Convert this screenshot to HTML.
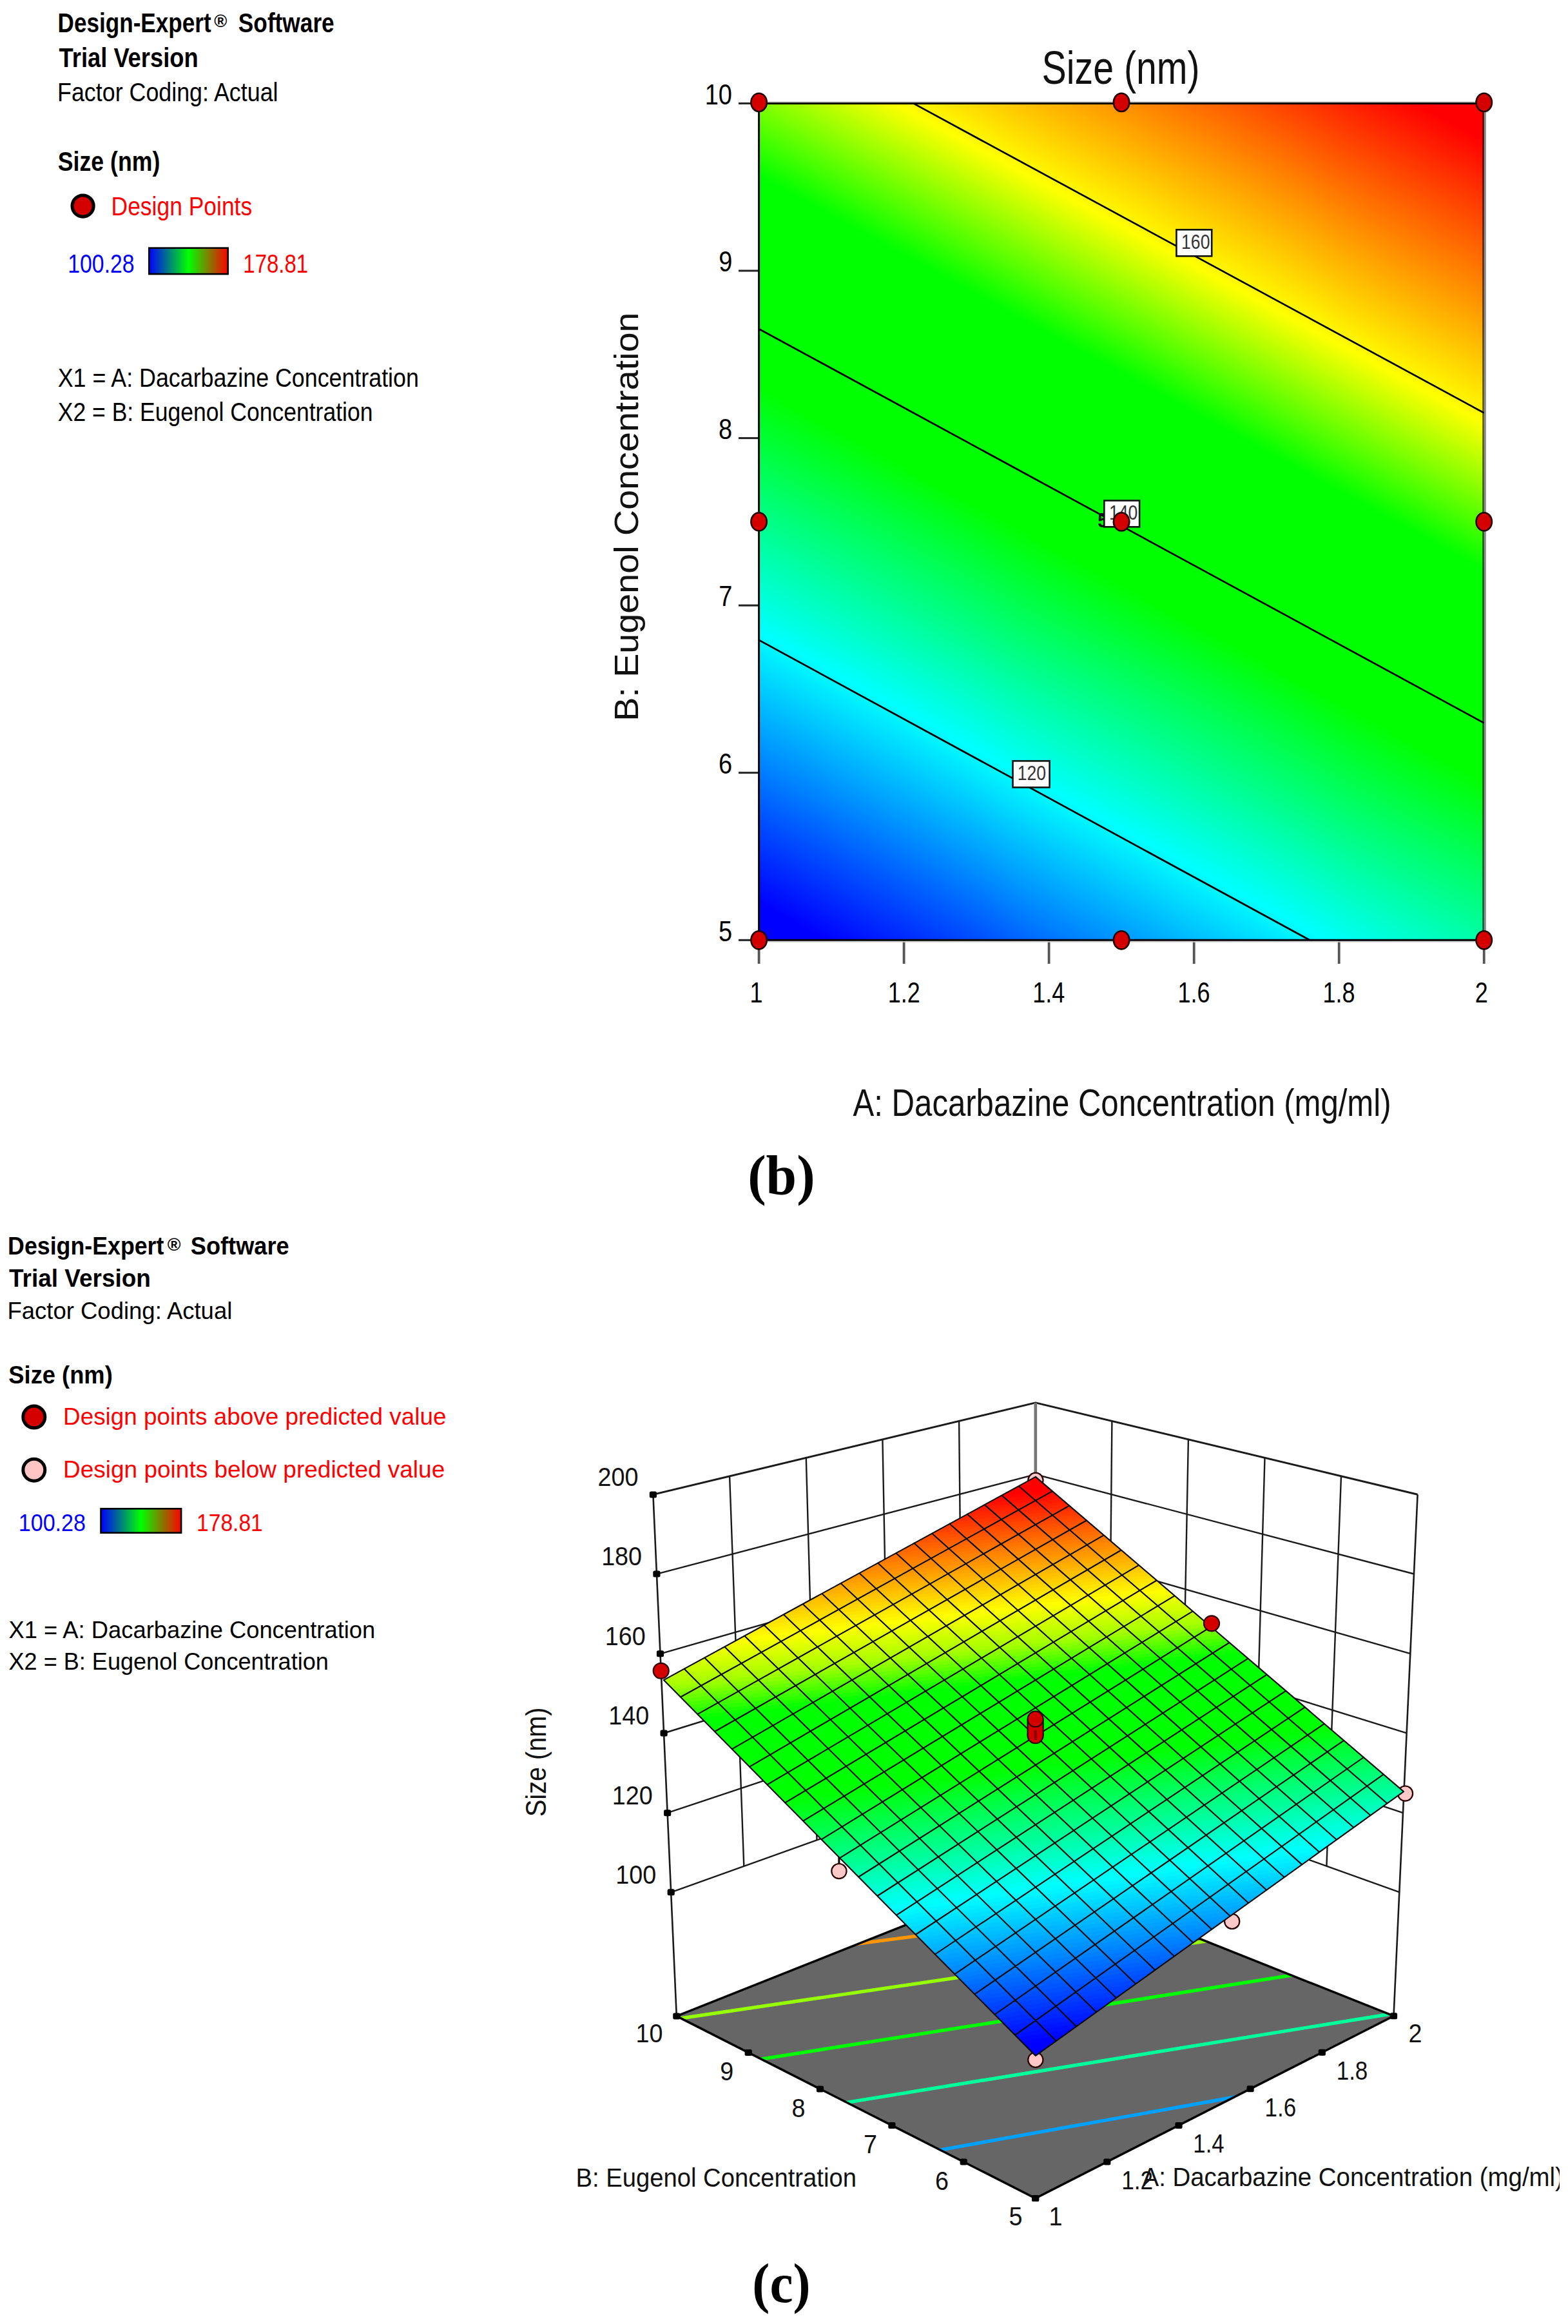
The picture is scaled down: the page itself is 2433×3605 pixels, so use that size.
<!DOCTYPE html>
<html><head><meta charset="utf-8"><title>Figure</title><style>html,body{margin:0;padding:0;background:#fff}svg{display:block}</style></head><body>
<svg width="2433" height="3605" viewBox="0 0 2433 3605">
<defs>
<linearGradient id="g2d" gradientUnits="userSpaceOnUse" x1="1177.6" y1="1458.3" x2="1977.6" y2="-16.9">
<stop offset="0" stop-color="#0000ff"/>
<stop offset="0.03" stop-color="#0000ff"/>
<stop offset="0.25" stop-color="#00ffff"/>
<stop offset="0.45" stop-color="#00ff00"/>
<stop offset="0.62" stop-color="#00ff00"/>
<stop offset="0.74" stop-color="#ffff00"/>
<stop offset="0.97" stop-color="#ff0000"/>
<stop offset="1.0" stop-color="#ff0000"/>
</linearGradient>
<linearGradient id="bar" x1="0" y1="0" x2="1" y2="0"><stop offset="0" stop-color="#0000ff"/><stop offset="0.5" stop-color="#00ff00"/><stop offset="1" stop-color="#ff0000"/></linearGradient>
</defs>
<rect width="2433" height="3605" fill="#fff"/>
<g id="legend-top">
<text transform="translate(89.62,50.40) scale(0.8214,1)" font-family='"Liberation Sans", sans-serif' font-size="42.75" font-weight="bold" fill="#000">Design-Expert</text>
<text transform="translate(332.19,41.80) scale(1.0087,1)" font-family='"Liberation Sans", sans-serif' font-size="27.00" font-weight="bold" fill="#000">®</text>
<text transform="translate(369.84,50.40) scale(0.8248,1)" font-family='"Liberation Sans", sans-serif' font-size="42.75" font-weight="bold" fill="#000">Software</text>
<text transform="translate(91.54,103.60) scale(0.8504,1)" font-family='"Liberation Sans", sans-serif' font-size="42.75" font-weight="bold" fill="#000">Trial Version</text>
<text transform="translate(89.03,157.20) scale(0.8676,1)" font-family='"Liberation Sans", sans-serif' font-size="41.30" font-weight="normal" fill="#000">Factor Coding: Actual</text>
<text transform="translate(89.83,264.70) scale(0.8482,1)" font-family='"Liberation Sans", sans-serif' font-size="42.03" font-weight="bold" fill="#000">Size (nm)</text>
<circle cx="128.6" cy="319.6" r="16.6" fill="#d40000" stroke="#000" stroke-width="5"/>
<text transform="translate(172.56,333.90) scale(0.8893,1)" font-family='"Liberation Sans", sans-serif' font-size="39.86" font-weight="normal" fill="#ff0000">Design Points</text>
<text transform="translate(105.27,423.20) scale(0.8326,1)" font-family='"Liberation Sans", sans-serif' font-size="40.58" font-weight="normal" fill="#0000ff">100.28</text>
<rect x="231.3" y="384.7" width="122.4" height="40.4" fill="url(#bar)" stroke="#000" stroke-width="2.6"/>
<text transform="translate(377.33,423.20) scale(0.8130,1)" font-family='"Liberation Sans", sans-serif' font-size="40.58" font-weight="normal" fill="#ff0000">178.81</text>
<text transform="translate(89.70,600.40) scale(0.8639,1)" font-family='"Liberation Sans", sans-serif' font-size="41.45" font-weight="normal" fill="#000">X1 = A: Dacarbazine Concentration</text>
<text transform="translate(89.71,653.00) scale(0.8572,1)" font-family='"Liberation Sans", sans-serif' font-size="41.45" font-weight="normal" fill="#000">X2 = B: Eugenol Concentration</text>
</g>
<g id="contour-plot">
<rect x="1177.6" y="160.4" width="1125.1" height="1297.9" fill="url(#g2d)"/>
<line x1="1146" y1="160.4" x2="1177.6" y2="160.4" stroke="#222" stroke-width="3"/>
<text transform="translate(1093.67,161.70) scale(0.8400,1)" font-family='"Liberation Sans", sans-serif' font-size="45.22" font-weight="normal" fill="#000">10</text>
<line x1="1146" y1="420.0" x2="1177.6" y2="420.0" stroke="#222" stroke-width="3"/>
<text transform="translate(1115.13,421.28) scale(0.8400,1)" font-family='"Liberation Sans", sans-serif' font-size="45.22" font-weight="normal" fill="#000">9</text>
<line x1="1146" y1="679.6" x2="1177.6" y2="679.6" stroke="#222" stroke-width="3"/>
<text transform="translate(1114.94,680.86) scale(0.8400,1)" font-family='"Liberation Sans", sans-serif' font-size="45.22" font-weight="normal" fill="#000">8</text>
<line x1="1146" y1="939.1" x2="1177.6" y2="939.1" stroke="#222" stroke-width="3"/>
<text transform="translate(1115.32,940.44) scale(0.8400,1)" font-family='"Liberation Sans", sans-serif' font-size="45.22" font-weight="normal" fill="#000">7</text>
<line x1="1146" y1="1198.7" x2="1177.6" y2="1198.7" stroke="#222" stroke-width="3"/>
<text transform="translate(1114.94,1200.02) scale(0.8400,1)" font-family='"Liberation Sans", sans-serif' font-size="45.22" font-weight="normal" fill="#000">6</text>
<line x1="1146" y1="1458.3" x2="1177.6" y2="1458.3" stroke="#222" stroke-width="3"/>
<text transform="translate(1114.94,1459.60) scale(0.8400,1)" font-family='"Liberation Sans", sans-serif' font-size="45.22" font-weight="normal" fill="#000">5</text>
<line x1="1177.6" y1="1458.3" x2="1177.6" y2="1495" stroke="#555" stroke-width="3.8"/>
<text transform="translate(1163.59,1554.60) scale(0.8000,1)" font-family='"Liberation Sans", sans-serif' font-size="44.93" font-weight="normal" fill="#000">1</text>
<line x1="1402.6" y1="1458.3" x2="1402.6" y2="1495" stroke="#555" stroke-width="3.8"/>
<text transform="translate(1377.69,1554.60) scale(0.8000,1)" font-family='"Liberation Sans", sans-serif' font-size="44.93" font-weight="normal" fill="#000">1.2</text>
<line x1="1627.6" y1="1458.3" x2="1627.6" y2="1495" stroke="#555" stroke-width="3.8"/>
<text transform="translate(1602.35,1554.60) scale(0.8000,1)" font-family='"Liberation Sans", sans-serif' font-size="44.93" font-weight="normal" fill="#000">1.4</text>
<line x1="1852.7" y1="1458.3" x2="1852.7" y2="1495" stroke="#555" stroke-width="3.8"/>
<text transform="translate(1827.55,1554.60) scale(0.8000,1)" font-family='"Liberation Sans", sans-serif' font-size="44.93" font-weight="normal" fill="#000">1.6</text>
<line x1="2077.7" y1="1458.3" x2="2077.7" y2="1495" stroke="#555" stroke-width="3.8"/>
<text transform="translate(2052.57,1554.60) scale(0.8000,1)" font-family='"Liberation Sans", sans-serif' font-size="44.93" font-weight="normal" fill="#000">1.8</text>
<line x1="2302.7" y1="1458.3" x2="2302.7" y2="1495" stroke="#555" stroke-width="3.8"/>
<text transform="translate(2288.73,1554.60) scale(0.8000,1)" font-family='"Liberation Sans", sans-serif' font-size="44.93" font-weight="normal" fill="#000">2</text>
<line x1="1417.3" y1="160.4" x2="2302.7" y2="640.5" stroke="#000" stroke-width="2.7"/>
<line x1="1177.6" y1="510.2" x2="2302.7" y2="1121.5" stroke="#000" stroke-width="2.7"/>
<line x1="1177.6" y1="992.9" x2="2032.2" y2="1458.3" stroke="#000" stroke-width="2.7"/>
<line x1="1176.1" y1="158.0" x2="2304.2" y2="158.0" stroke="#d0d0d0" stroke-width="2"/>
<line x1="1176.1" y1="1460.7" x2="2304.2" y2="1460.7" stroke="#d0d0d0" stroke-width="2"/>
<line x1="2304.5" y1="160.4" x2="2304.5" y2="1458.3" stroke="#888" stroke-width="2.6"/>
<line x1="2301.6" y1="160.4" x2="2301.6" y2="1458.3" stroke="#000" stroke-opacity="0.6" stroke-width="3"/>
<path d="M2304.2 160.4L1177.6 160.4L1177.6 1458.3L2304.2 1458.3" fill="none" stroke="#000" stroke-width="3" stroke-linecap="butt" stroke-linejoin="miter"/>
<text transform="translate(1703.16,818.20) scale(0.9200,1)" font-family='"Liberation Sans", sans-serif' font-size="30.43" font-weight="bold" fill="#111">5</text>
<rect x="1825.4" y="356.3" width="54.8" height="41.0" fill="#fff" stroke="#111" stroke-width="2.6"/>
<text transform="translate(1833.11,385.90) scale(0.8564,1)" font-family='"Liberation Sans", sans-serif' font-size="31.01" font-weight="normal" fill="#333">160</text>
<rect x="1713.3" y="776.5" width="54.8" height="40.8" fill="#fff" stroke="#111" stroke-width="2.6"/>
<text transform="translate(1721.01,806.10) scale(0.8564,1)" font-family='"Liberation Sans", sans-serif' font-size="31.01" font-weight="normal" fill="#333">140</text>
<rect x="1571.5" y="1180.4" width="57.1" height="41.0" fill="#fff" stroke="#111" stroke-width="2.6"/>
<text transform="translate(1578.71,1210.40) scale(0.8564,1)" font-family='"Liberation Sans", sans-serif' font-size="31.01" font-weight="normal" fill="#333">120</text>
<ellipse cx="1177.6" cy="158.9" rx="12.2" ry="14.1" fill="#d40000" stroke="#200" stroke-width="2.6"/>
<ellipse cx="1177.6" cy="809.3" rx="12.2" ry="14.1" fill="#d40000" stroke="#200" stroke-width="2.6"/>
<ellipse cx="1177.6" cy="1458.3" rx="12.2" ry="14.1" fill="#d40000" stroke="#200" stroke-width="2.6"/>
<ellipse cx="1740.1" cy="158.9" rx="12.2" ry="14.1" fill="#d40000" stroke="#200" stroke-width="2.6"/>
<ellipse cx="1740.1" cy="809.4" rx="12.2" ry="14.1" fill="#d40000" stroke="#200" stroke-width="2.6"/>
<ellipse cx="1740.1" cy="1458.3" rx="12.2" ry="14.1" fill="#d40000" stroke="#200" stroke-width="2.6"/>
<ellipse cx="2302.7" cy="158.9" rx="12.2" ry="14.1" fill="#d40000" stroke="#200" stroke-width="2.6"/>
<ellipse cx="2302.7" cy="809.3" rx="12.2" ry="14.1" fill="#d40000" stroke="#200" stroke-width="2.6"/>
<ellipse cx="2302.7" cy="1458.3" rx="12.2" ry="14.1" fill="#d40000" stroke="#200" stroke-width="2.6"/>
<text transform="translate(1616.62,129.50) scale(0.8015,1)" font-family='"Liberation Sans", sans-serif' font-size="71.45" font-weight="normal" fill="#111">Size (nm)</text>
<text transform="translate(1323.60,1731.30) scale(0.8388,1)" font-family='"Liberation Sans", sans-serif' font-size="58.55" font-weight="normal" fill="#111">A: Dacarbazine Concentration (mg/ml)</text>
<g transform="translate(989.8,1114.4) rotate(-90)">
<text transform="translate(-4.45,0.00) scale(1.0762,1)" font-family='"Liberation Sans", sans-serif' font-size="51.74" font-weight="normal" fill="#111">B: Eugenol Concentration</text>
</g>
</g>
<text transform="translate(1160.15,1852.10) scale(0.9938,1)" font-family='"Liberation Serif", serif' font-size="86.00" font-weight="bold" fill="#000">(b)</text>
<g id="legend-bottom">
<text transform="translate(12.08,1945.90) scale(0.9139,1)" font-family='"Liberation Sans", sans-serif' font-size="39.13" font-weight="bold" fill="#000">Design-Expert</text>
<text transform="translate(259.78,1940.00) scale(1.0402,1)" font-family='"Liberation Sans", sans-serif' font-size="27.00" font-weight="bold" fill="#000">®</text>
<text transform="translate(295.81,1945.90) scale(0.9252,1)" font-family='"Liberation Sans", sans-serif' font-size="39.13" font-weight="bold" fill="#000">Software</text>
<text transform="translate(14.03,1995.50) scale(0.9452,1)" font-family='"Liberation Sans", sans-serif' font-size="39.13" font-weight="bold" fill="#000">Trial Version</text>
<text transform="translate(11.48,2046.00) scale(0.9688,1)" font-family='"Liberation Sans", sans-serif' font-size="37.68" font-weight="normal" fill="#000">Factor Coding: Actual</text>
<text transform="translate(13.31,2145.80) scale(0.9285,1)" font-family='"Liberation Sans", sans-serif' font-size="39.13" font-weight="bold" fill="#000">Size (nm)</text>
<circle cx="52.8" cy="2198.1" r="17" fill="#d40000" stroke="#000" stroke-width="5"/>
<text transform="translate(98.05,2209.60) scale(1.0181,1)" font-family='"Liberation Sans", sans-serif' font-size="36.23" font-weight="normal" fill="#ff0000">Design points above predicted value</text>
<circle cx="52.8" cy="2280.3" r="17" fill="#ffc4c4" stroke="#000" stroke-width="5"/>
<text transform="translate(98.04,2292.20) scale(1.0211,1)" font-family='"Liberation Sans", sans-serif' font-size="36.23" font-weight="normal" fill="#ff0000">Design points below predicted value</text>
<text transform="translate(28.64,2374.90) scale(0.9243,1)" font-family='"Liberation Sans", sans-serif' font-size="36.96" font-weight="normal" fill="#0000ff">100.28</text>
<rect x="156.5" y="2340.3" width="124.6" height="37.4" fill="url(#bar)" stroke="#000" stroke-width="2.6"/>
<text transform="translate(305.08,2374.90) scale(0.9084,1)" font-family='"Liberation Sans", sans-serif' font-size="36.96" font-weight="normal" fill="#ff0000">178.81</text>
<text transform="translate(13.49,2540.70) scale(0.9647,1)" font-family='"Liberation Sans", sans-serif' font-size="37.68" font-weight="normal" fill="#000">X1 = A: Dacarbazine Concentration</text>
<text transform="translate(13.50,2590.20) scale(0.9577,1)" font-family='"Liberation Sans", sans-serif' font-size="37.68" font-weight="normal" fill="#000">X2 = B: Eugenol Concentration</text>
</g>
<g id="surface-plot">
<polyline points="1013.4,2318.4 1606.8,2175.9 2199.6,2318.3" fill="none" stroke="#1a1a1a" stroke-width="3" stroke-linejoin="round"/>
<polyline points="1018.9,2441.6 1606.8,2287.1 2193.9,2441.5" fill="none" stroke="#1a1a1a" stroke-width="2.4" stroke-linejoin="round"/>
<polyline points="1024.5,2565.3 1606.9,2398.7 2188.3,2565.2" fill="none" stroke="#1a1a1a" stroke-width="2.4" stroke-linejoin="round"/>
<polyline points="1030.1,2688.5 1606.9,2509.9 2182.6,2688.4" fill="none" stroke="#1a1a1a" stroke-width="2.4" stroke-linejoin="round"/>
<polyline points="1035.6,2812.2 1606.9,2621.6 2177.0,2812.1" fill="none" stroke="#1a1a1a" stroke-width="2.4" stroke-linejoin="round"/>
<polyline points="1041.2,2935.3 1607.0,2732.7 2171.3,2935.2" fill="none" stroke="#1a1a1a" stroke-width="2.4" stroke-linejoin="round"/>
<line x1="1132.1" y1="2289.9" x2="1154.3" y2="2894.8" stroke="#1a1a1a" stroke-width="2.4"/>
<line x1="1725.4" y1="2204.4" x2="1719.8" y2="2773.2" stroke="#1a1a1a" stroke-width="2.4"/>
<line x1="1250.8" y1="2261.4" x2="1267.5" y2="2854.3" stroke="#1a1a1a" stroke-width="2.4"/>
<line x1="1843.9" y1="2232.9" x2="1832.7" y2="2813.7" stroke="#1a1a1a" stroke-width="2.4"/>
<line x1="1369.4" y1="2232.9" x2="1380.6" y2="2813.7" stroke="#1a1a1a" stroke-width="2.4"/>
<line x1="1962.5" y1="2261.3" x2="1945.6" y2="2854.2" stroke="#1a1a1a" stroke-width="2.4"/>
<line x1="1488.1" y1="2204.4" x2="1493.8" y2="2773.2" stroke="#1a1a1a" stroke-width="2.4"/>
<line x1="2081.0" y1="2289.8" x2="2058.4" y2="2894.7" stroke="#1a1a1a" stroke-width="2.4"/>
<line x1="1606.8" y1="2175.9" x2="1607.0" y2="2732.7" stroke="#777" stroke-width="4.6"/>
<line x1="1013.4" y1="2318.4" x2="1049.8" y2="3127.4" stroke="#1a1a1a" stroke-width="2.6"/>
<line x1="2199.6" y1="2318.3" x2="2162.5" y2="3127.2" stroke="#1a1a1a" stroke-width="2.6"/>
<polygon points="1049.8,3127.4 1606.6,3410.0 2162.5,3127.2 1607.0,2906.0" fill="#666666"/>
<clipPath id="floorclip"><polygon points="1049.8,3127.4 1606.6,3410.0 2162.5,3127.2 1607.0,2906.0"/></clipPath>
<g clip-path="url(#floorclip)" stroke-width="5.4" stroke-linecap="butt">
<line x1="1320.0" y1="3016.6" x2="1640.0" y2="2974.7" stroke="#ff9600"/>
<line x1="1040.0" y1="3133.2" x2="1885.0" y2="3009.0" stroke="#96ff00"/>
<line x1="1168.0" y1="3196.2" x2="2016.0" y2="3062.2" stroke="#00ff00"/>
<line x1="1305.0" y1="3262.8" x2="2170.0" y2="3122.0" stroke="#00ff9c"/>
<line x1="1446.0" y1="3337.3" x2="1927.0" y2="3251.0" stroke="#00a0ff"/>
</g>
<polygon points="1049.8,3127.4 1606.6,3410.0 2162.5,3127.2 1607.0,2906.0" fill="none" stroke="#000" stroke-width="3.5" stroke-linejoin="miter"/>
<line x1="1301.9" y1="2880.0" x2="1301.9" y2="2895.0" stroke="#000" stroke-width="3"/>
<line x1="1911.7" y1="2970.0" x2="1911.7" y2="2975.0" stroke="#000" stroke-width="3"/>
<circle cx="1606.9" cy="2296.3" r="11.6" fill="#ffc8c8" stroke="#2a0000" stroke-width="2.2"/>
<circle cx="1301.9" cy="2902.6" r="11.6" fill="#ffc8c8" stroke="#2a0000" stroke-width="2.2"/>
<circle cx="1606.8" cy="3195.2" r="11.6" fill="#ffc8c8" stroke="#2a0000" stroke-width="2.2"/>
<circle cx="1911.7" cy="2980.4" r="11.6" fill="#ffc8c8" stroke="#2a0000" stroke-width="2.2"/>
<circle cx="2180.5" cy="2782.1" r="11.6" fill="#ffc8c8" stroke="#2a0000" stroke-width="2.2"/>
<g shape-rendering="geometricPrecision">
<polygon points="1029.8,2606.1 1606.8,3189.0 2178.0,2779.1 1606.9,2290.9" fill="#00ff00"/>
<polygon points="1606.8,3189.0 1619.3,3180.0 1600.9,3183.1" fill="#0000ff"/>
<polygon points="1616.3,3182.2 1631.8,3171.1 1595.0,3177.1 1602.4,3184.5" fill="#0000ff"/>
<polygon points="1628.7,3173.3 1644.1,3162.2 1589.2,3171.2 1596.5,3178.6" fill="#0000ff"/>
<polygon points="1641.1,3164.4 1656.5,3153.4 1583.3,3165.3 1590.6,3172.7" fill="#0002ff"/>
<polygon points="1653.5,3155.5 1668.7,3144.6 1577.5,3159.4 1584.8,3166.7" fill="#0009ff"/>
<polygon points="1665.7,3146.7 1681.0,3135.8 1571.7,3153.5 1578.9,3160.8" fill="#0010ff"/>
<polygon points="1678.0,3137.9 1693.1,3127.1 1565.9,3147.7 1573.1,3155.0" fill="#0017ff"/>
<polygon points="1690.1,3129.2 1705.2,3118.4 1560.1,3141.8 1567.3,3149.1" fill="#001eff"/>
<polygon points="1702.3,3120.5 1717.2,3109.7 1554.3,3136.0 1561.5,3143.2" fill="#0025ff"/>
<polygon points="1714.3,3111.8 1729.2,3101.1 1548.5,3130.1 1555.7,3137.4" fill="#002cff"/>
<polygon points="1726.3,3103.2 1741.2,3092.6 1542.7,3124.3 1549.9,3131.5" fill="#0033ff"/>
<polygon points="1738.3,3094.7 1753.0,3084.1 1537.0,3118.5 1544.2,3125.7" fill="#003aff"/>
<polygon points="1750.1,3086.1 1764.9,3075.6 1531.3,3112.7 1538.4,3119.9" fill="#0040ff"/>
<polygon points="1762.0,3077.6 1776.6,3067.1 1525.5,3106.9 1532.7,3114.1" fill="#0047ff"/>
<polygon points="1773.7,3069.2 1788.3,3058.7 1519.8,3101.1 1526.9,3108.3" fill="#004eff"/>
<polygon points="1785.5,3060.8 1800.0,3050.4 1514.1,3095.4 1521.2,3102.5" fill="#0055ff"/>
<polygon points="1797.1,3052.4 1811.6,3042.0 1508.4,3089.6 1515.5,3096.8" fill="#005cff"/>
<polygon points="1808.8,3044.1 1823.1,3033.8 1502.7,3083.9 1509.8,3091.0" fill="#0063ff"/>
<polygon points="1820.3,3035.8 1834.6,3025.5 1497.0,3078.1 1504.1,3085.3" fill="#006aff"/>
<polygon points="1831.8,3027.5 1846.1,3017.3 1491.4,3072.4 1498.4,3079.5" fill="#0071ff"/>
<polygon points="1843.3,3019.3 1857.5,3009.1 1485.7,3066.7 1492.8,3073.8" fill="#0078ff"/>
<polygon points="1854.7,3011.1 1868.8,3001.0 1480.1,3061.0 1487.1,3068.1" fill="#007fff"/>
<polygon points="1866.0,3003.0 1880.1,2992.9 1474.5,3055.3 1481.5,3062.4" fill="#0086ff"/>
<polygon points="1877.3,2994.9 1891.3,2984.8 1468.9,3049.6 1475.8,3056.7" fill="#008dff"/>
<polygon points="1888.6,2986.8 1902.5,2976.8 1463.3,3044.0 1470.2,3051.0" fill="#0094ff"/>
<polygon points="1899.8,2978.7 1913.7,2968.8 1457.7,3038.3 1464.6,3045.4" fill="#009bff"/>
<polygon points="1910.9,2970.7 1924.7,2960.8 1452.1,3032.7 1459.0,3039.7" fill="#00a1ff"/>
<polygon points="1922.0,2962.8 1935.8,2952.9 1446.5,3027.1 1453.4,3034.1" fill="#00a8ff"/>
<polygon points="1933.1,2954.9 1946.8,2945.0 1440.9,3021.4 1447.9,3028.4" fill="#00afff"/>
<polygon points="1944.1,2947.0 1957.7,2937.2 1435.4,3015.8 1442.3,3022.8" fill="#00b6ff"/>
<polygon points="1955.0,2939.1 1968.6,2929.4 1429.9,3010.2 1436.8,3017.2" fill="#00bdff"/>
<polygon points="1965.9,2931.3 1979.4,2921.6 1424.3,3004.7 1431.2,3011.6" fill="#00c4ff"/>
<polygon points="1976.8,2923.5 1990.2,2913.9 1418.8,2999.1 1425.7,3006.0" fill="#00cbff"/>
<polygon points="1987.6,2915.7 2001.0,2906.1 1413.3,2993.5 1420.2,3000.5" fill="#00d2ff"/>
<polygon points="1998.3,2908.0 2011.7,2898.5 1407.8,2988.0 1414.7,2994.9" fill="#00d9ff"/>
<polygon points="2009.1,2900.3 2022.3,2890.8 1402.3,2982.4 1409.2,2989.3" fill="#00e0ff"/>
<polygon points="2019.7,2892.7 2032.9,2883.2 1396.9,2976.9 1403.7,2983.8" fill="#00e7ff"/>
<polygon points="2030.3,2885.1 2043.5,2875.6 1391.4,2971.4 1398.2,2978.3" fill="#00eeff"/>
<polygon points="2040.9,2877.5 2054.0,2868.1 1385.9,2965.9 1392.7,2972.7" fill="#00f5ff"/>
<polygon points="2051.4,2869.9 2064.4,2860.6 1380.5,2960.4 1387.3,2967.2" fill="#00fcff"/>
<polygon points="2061.9,2862.4 2074.9,2853.1 1375.1,2954.9 1381.8,2961.7" fill="#00fffb"/>
<polygon points="2072.3,2854.9 2085.2,2845.7 1369.6,2949.4 1376.4,2956.2" fill="#00fff3"/>
<polygon points="2082.7,2847.5 2095.6,2838.3 1364.2,2944.0 1371.0,2950.8" fill="#00ffeb"/>
<polygon points="2093.0,2840.1 2105.9,2830.9 1358.8,2938.5 1365.6,2945.3" fill="#00ffe3"/>
<polygon points="2103.3,2832.7 2116.1,2823.5 1353.4,2933.1 1360.2,2939.8" fill="#00ffdb"/>
<polygon points="2113.6,2825.3 2126.3,2816.2 1348.1,2927.6 1354.8,2934.4" fill="#00ffd3"/>
<polygon points="2123.8,2818.0 2136.4,2808.9 1342.7,2922.2 1349.4,2929.0" fill="#00ffcb"/>
<polygon points="2134.0,2810.7 2146.5,2801.7 1337.3,2916.8 1344.0,2923.5" fill="#00ffc3"/>
<polygon points="2144.1,2803.4 2156.6,2794.5 1332.0,2911.4 1338.7,2918.1" fill="#00ffbb"/>
<polygon points="2154.2,2796.2 2166.6,2787.3 1326.7,2906.0 1333.3,2912.7" fill="#00ffb3"/>
<polygon points="2164.2,2789.0 2176.6,2780.1 1321.3,2900.6 1328.0,2907.3" fill="#00ffab"/>
<polygon points="2174.2,2781.8 2178.0,2779.1 2173.0,2774.9 1316.0,2895.2 1322.6,2901.9" fill="#00ffa3"/>
<polygon points="2174.5,2776.1 2167.3,2769.9 1310.7,2889.9 1317.3,2896.6" fill="#00ff9b"/>
<polygon points="2168.7,2771.1 2161.6,2765.0 1305.4,2884.5 1312.0,2891.2" fill="#00ff93"/>
<polygon points="2163.0,2766.2 2155.8,2760.1 1300.1,2879.2 1306.7,2885.8" fill="#00ff8b"/>
<polygon points="2157.2,2761.3 2150.1,2755.3 1294.9,2873.9 1301.4,2880.5" fill="#00ff83"/>
<polygon points="2151.5,2756.4 2144.4,2750.4 1289.6,2868.6 1296.1,2875.2" fill="#00ff7c"/>
<polygon points="2145.8,2751.6 2138.7,2745.5 1284.3,2863.2 1290.9,2869.9" fill="#00ff74"/>
<polygon points="2140.1,2746.7 2133.0,2740.6 1279.1,2857.9 1285.6,2864.5" fill="#00ff6c"/>
<polygon points="2134.4,2741.8 2127.3,2735.8 1273.9,2852.7 1280.4,2859.2" fill="#00ff64"/>
<polygon points="2128.7,2737.0 2121.7,2730.9 1268.6,2847.4 1275.1,2853.9" fill="#00ff5c"/>
<polygon points="2123.0,2732.1 2116.0,2726.1 1263.4,2842.1 1269.9,2848.7" fill="#00ff54"/>
<polygon points="2117.4,2727.3 2110.4,2721.3 1258.2,2836.9 1264.7,2843.4" fill="#00ff4c"/>
<polygon points="2111.7,2722.5 2104.7,2716.5 1253.0,2831.6 1259.5,2838.1" fill="#00ff44"/>
<polygon points="2106.1,2717.6 2099.1,2711.6 1247.8,2826.4 1254.3,2832.9" fill="#00ff3c"/>
<polygon points="2100.5,2712.8 2093.5,2706.8 1242.7,2821.1 1249.1,2827.6" fill="#00ff34"/>
<polygon points="2094.9,2708.0 2087.9,2702.1 1237.5,2815.9 1243.9,2822.4" fill="#00ff2c"/>
<polygon points="2089.2,2703.2 2082.3,2697.3 1232.3,2810.7 1238.8,2817.2" fill="#00ff24"/>
<polygon points="2083.6,2698.4 2076.7,2692.5 1227.2,2805.5 1233.6,2812.0" fill="#00ff1c"/>
<polygon points="2078.1,2693.7 2071.1,2687.7 1222.1,2800.3 1228.5,2806.8" fill="#00ff14"/>
<polygon points="2072.5,2688.9 2065.5,2683.0 1216.9,2795.2 1223.3,2801.6" fill="#00ff0c"/>
<polygon points="2066.9,2684.1 2060.0,2678.2 1211.8,2790.0 1218.2,2796.4" fill="#00ff04"/>
<polygon points="2061.3,2679.4 2054.4,2673.5 1206.7,2784.8 1213.1,2791.2" fill="#00ff00"/>
<polygon points="2055.8,2674.6 2048.9,2668.7 1201.6,2779.7 1208.0,2786.1" fill="#00ff00"/>
<polygon points="2050.3,2669.9 2043.4,2664.0 1196.5,2774.5 1202.9,2780.9" fill="#00ff00"/>
<polygon points="2044.7,2665.2 2037.9,2659.3 1191.5,2769.4 1197.8,2775.8" fill="#00ff00"/>
<polygon points="2039.2,2660.5 2032.3,2654.6 1186.4,2764.3 1192.7,2770.7" fill="#00ff00"/>
<polygon points="2033.7,2655.7 2026.8,2649.9 1181.3,2759.2 1187.6,2765.5" fill="#00ff00"/>
<polygon points="2028.2,2651.0 2021.4,2645.2 1176.3,2754.1 1182.6,2760.4" fill="#00ff00"/>
<polygon points="2022.7,2646.3 2015.9,2640.5 1171.2,2749.0 1177.5,2755.3" fill="#00ff00"/>
<polygon points="2017.2,2641.7 2010.4,2635.8 1166.2,2743.9 1172.5,2750.2" fill="#00ff00"/>
<polygon points="2011.7,2637.0 2005.0,2631.2 1161.2,2738.8 1167.4,2745.2" fill="#00ff00"/>
<polygon points="2006.3,2632.3 1999.5,2626.5 1156.2,2733.8 1162.4,2740.1" fill="#00ff00"/>
<polygon points="2000.8,2627.7 1994.1,2621.9 1151.2,2728.7 1157.4,2735.0" fill="#00ff00"/>
<polygon points="1995.4,2623.0 1988.6,2617.2 1146.2,2723.7 1152.4,2730.0" fill="#00ff00"/>
<polygon points="1990.0,2618.4 1983.2,2612.6 1141.2,2718.6 1147.4,2724.9" fill="#00ff00"/>
<polygon points="1984.5,2613.7 1977.8,2608.0 1136.2,2713.6 1142.4,2719.9" fill="#00ff00"/>
<polygon points="1979.1,2609.1 1972.4,2603.3 1131.3,2708.6 1137.5,2714.9" fill="#00ff00"/>
<polygon points="1973.7,2604.5 1967.0,2598.7 1126.3,2703.6 1132.5,2709.8" fill="#00ff00"/>
<polygon points="1968.3,2599.9 1961.6,2594.1 1121.4,2698.6 1127.5,2704.8" fill="#00ff00"/>
<polygon points="1962.9,2595.3 1956.2,2589.5 1116.4,2693.6 1122.6,2699.8" fill="#00ff00"/>
<polygon points="1957.6,2590.7 1950.9,2585.0 1111.5,2688.6 1117.6,2694.8" fill="#00ff00"/>
<polygon points="1952.2,2586.1 1945.5,2580.4 1106.6,2683.7 1112.7,2689.9" fill="#00ff00"/>
<polygon points="1946.8,2581.5 1940.2,2575.8 1101.7,2678.7 1107.8,2684.9" fill="#00ff00"/>
<polygon points="1941.5,2576.9 1934.8,2571.2 1096.8,2673.8 1102.9,2679.9" fill="#00ff00"/>
<polygon points="1936.2,2572.4 1929.5,2566.7 1091.9,2668.8 1098.0,2675.0" fill="#00ff00"/>
<polygon points="1930.8,2567.8 1924.2,2562.1 1087.0,2663.9 1093.1,2670.0" fill="#00ff00"/>
<polygon points="1925.5,2563.3 1918.9,2557.6 1082.1,2659.0 1088.2,2665.1" fill="#0bff00"/>
<polygon points="1920.2,2558.7 1913.6,2553.1 1077.3,2654.1 1083.3,2660.2" fill="#1bff00"/>
<polygon points="1914.9,2554.2 1908.3,2548.6 1072.4,2649.2 1078.5,2655.3" fill="#2bff00"/>
<polygon points="1909.6,2549.7 1903.0,2544.0 1067.6,2644.3 1073.6,2650.4" fill="#3bff00"/>
<polygon points="1904.3,2545.1 1897.8,2539.5 1062.7,2639.4 1068.8,2645.5" fill="#4bff00"/>
<polygon points="1899.0,2540.6 1892.5,2535.0 1057.9,2634.5 1063.9,2640.6" fill="#5aff00"/>
<polygon points="1893.8,2536.1 1887.2,2530.5 1053.1,2629.6 1059.1,2635.7" fill="#6aff00"/>
<polygon points="1888.5,2531.6 1882.0,2526.1 1048.3,2624.8 1054.3,2630.8" fill="#7aff00"/>
<polygon points="1883.3,2527.2 1876.8,2521.6 1043.5,2619.9 1049.5,2626.0" fill="#8aff00"/>
<polygon points="1878.0,2522.7 1871.5,2517.1 1038.7,2615.1 1044.7,2621.1" fill="#9aff00"/>
<polygon points="1872.8,2518.2 1866.3,2512.7 1033.9,2610.3 1039.9,2616.3" fill="#a7ff00"/>
<polygon points="1867.6,2513.7 1861.1,2508.2 1031.5,2605.1 1029.8,2606.1 1035.1,2611.4" fill="#afff00"/>
<polygon points="1862.4,2509.3 1855.9,2503.8 1044.0,2598.3 1029.8,2606.1 1030.3,2606.6" fill="#b7ff00"/>
<polygon points="1857.2,2504.8 1850.7,2499.3 1056.5,2591.5 1041.0,2600.0" fill="#c0ff00"/>
<polygon points="1852.0,2500.4 1845.5,2494.9 1068.9,2584.8 1053.4,2593.2" fill="#c8ff00"/>
<polygon points="1846.8,2496.0 1840.4,2490.5 1081.2,2578.0 1065.8,2586.4" fill="#d0ff00"/>
<polygon points="1841.6,2491.6 1835.2,2486.1 1093.5,2571.3 1078.2,2579.7" fill="#d8ff00"/>
<polygon points="1836.5,2487.1 1830.0,2481.7 1105.7,2564.6 1090.5,2573.0" fill="#e0ff00"/>
<polygon points="1831.3,2482.7 1824.9,2477.3 1117.9,2558.0 1102.7,2566.3" fill="#e8ff00"/>
<polygon points="1826.2,2478.3 1819.8,2472.9 1130.0,2551.4 1114.9,2559.6" fill="#f0ff00"/>
<polygon points="1821.0,2473.9 1814.6,2468.5 1142.1,2544.8 1127.1,2553.0" fill="#f8ff00"/>
<polygon points="1815.9,2469.6 1809.5,2464.1 1154.1,2538.2 1139.1,2546.4" fill="#fffe00"/>
<polygon points="1810.8,2465.2 1804.4,2459.7 1166.1,2531.7 1151.2,2539.8" fill="#fff700"/>
<polygon points="1805.7,2460.8 1799.3,2455.4 1178.0,2525.2 1163.2,2533.3" fill="#fff000"/>
<polygon points="1800.5,2456.4 1794.2,2451.0 1189.9,2518.7 1175.1,2526.7" fill="#ffea00"/>
<polygon points="1795.5,2452.1 1789.1,2446.7 1201.7,2512.2 1187.0,2520.2" fill="#ffe300"/>
<polygon points="1790.4,2447.7 1784.0,2442.3 1213.5,2505.8 1198.8,2513.8" fill="#ffdc00"/>
<polygon points="1785.3,2443.4 1779.0,2438.0 1225.2,2499.4 1210.6,2507.3" fill="#ffd500"/>
<polygon points="1780.2,2439.1 1773.9,2433.7 1236.9,2493.0 1222.3,2500.9" fill="#ffce00"/>
<polygon points="1775.2,2434.7 1768.9,2429.4 1248.5,2486.6 1234.0,2494.6" fill="#ffc700"/>
<polygon points="1770.1,2430.4 1763.8,2425.1 1260.1,2480.3 1245.7,2488.2" fill="#ffc000"/>
<polygon points="1765.1,2426.1 1758.8,2420.7 1271.6,2474.0 1257.3,2481.9" fill="#ffb900"/>
<polygon points="1760.0,2421.8 1753.8,2416.5 1283.1,2467.8 1268.8,2475.6" fill="#ffb200"/>
<polygon points="1755.0,2417.5 1748.8,2412.2 1294.5,2461.5 1280.3,2469.3" fill="#ffab00"/>
<polygon points="1750.0,2413.2 1743.8,2407.9 1305.9,2455.3 1291.7,2463.0" fill="#ffa400"/>
<polygon points="1745.0,2408.9 1738.8,2403.6 1317.3,2449.1 1303.1,2456.8" fill="#ff9d00"/>
<polygon points="1740.0,2404.7 1733.8,2399.3 1328.6,2442.9 1314.5,2450.6" fill="#ff9600"/>
<polygon points="1735.0,2400.4 1728.8,2395.1 1339.8,2436.8 1325.8,2444.4" fill="#ff8f00"/>
<polygon points="1730.0,2396.1 1723.8,2390.8 1351.0,2430.7 1337.1,2438.3" fill="#ff8900"/>
<polygon points="1725.0,2391.9 1718.8,2386.6 1362.2,2424.6 1348.3,2432.1" fill="#ff8200"/>
<polygon points="1720.1,2387.6 1713.9,2382.4 1373.3,2418.5 1359.5,2426.0" fill="#ff7b00"/>
<polygon points="1715.1,2383.4 1708.9,2378.1 1384.4,2412.4 1370.6,2420.0" fill="#ff7400"/>
<polygon points="1710.1,2379.2 1704.0,2373.9 1395.4,2406.4 1381.7,2413.9" fill="#ff6d00"/>
<polygon points="1705.2,2374.9 1699.1,2369.7 1406.4,2400.4 1392.7,2407.9" fill="#ff6600"/>
<polygon points="1700.3,2370.7 1694.1,2365.5 1417.3,2394.5 1403.7,2401.9" fill="#ff5f00"/>
<polygon points="1695.3,2366.5 1689.2,2361.3 1428.2,2388.5 1414.6,2395.9" fill="#ff5800"/>
<polygon points="1690.4,2362.3 1684.3,2357.1 1439.0,2382.6 1425.5,2390.0" fill="#ff5100"/>
<polygon points="1685.5,2358.1 1679.4,2352.9 1449.9,2376.7 1436.4,2384.0" fill="#ff4a00"/>
<polygon points="1680.6,2353.9 1674.5,2348.7 1460.6,2370.8 1447.2,2378.1" fill="#ff4300"/>
<polygon points="1675.7,2349.7 1669.6,2344.5 1471.3,2364.9 1458.0,2372.2" fill="#ff3c00"/>
<polygon points="1670.8,2345.6 1664.8,2340.4 1482.0,2359.1 1468.7,2366.4" fill="#ff3500"/>
<polygon points="1666.0,2341.4 1659.9,2336.2 1492.6,2353.3 1479.4,2360.5" fill="#ff2e00"/>
<polygon points="1661.1,2337.2 1655.0,2332.1 1503.2,2347.5 1490.1,2354.7" fill="#ff2700"/>
<polygon points="1656.2,2333.1 1650.2,2327.9 1513.8,2341.8 1500.7,2348.9" fill="#ff2100"/>
<polygon points="1651.4,2328.9 1645.3,2323.8 1524.3,2336.0 1511.2,2343.2" fill="#ff1a00"/>
<polygon points="1646.5,2324.8 1640.5,2319.6 1534.8,2330.3 1521.7,2337.4" fill="#ff1300"/>
<polygon points="1641.7,2320.6 1635.7,2315.5 1545.2,2324.6 1532.2,2331.7" fill="#ff0c00"/>
<polygon points="1636.9,2316.5 1630.9,2311.4 1555.6,2318.9 1542.6,2326.0" fill="#ff0500"/>
<polygon points="1632.0,2312.4 1626.1,2307.3 1565.9,2313.3 1553.0,2320.3" fill="#ff0000"/>
<polygon points="1627.2,2308.3 1621.3,2303.2 1576.2,2307.7 1563.4,2314.7" fill="#ff0000"/>
<polygon points="1622.4,2304.2 1616.5,2299.1 1586.5,2302.0 1573.7,2309.0" fill="#ff0000"/>
<polygon points="1617.6,2300.1 1611.7,2295.0 1596.7,2296.5 1584.0,2303.4" fill="#ff0000"/>
<polygon points="1612.8,2296.0 1606.9,2290.9 1594.2,2297.8" fill="#ff0000"/>
</g>
<path d="M1606.8 3189.0L1029.8 2606.1M1606.8 3189.0L2178.0 2779.1M1638.7 3166.1L1061.7 2588.7M1574.9 3156.8L2146.8 2752.4M1670.1 3143.5L1093.2 2571.5M1543.4 3125.0L2115.9 2726.0M1701.2 3121.2L1124.3 2554.5M1512.2 3093.5L2085.2 2699.8M1732.0 3099.2L1155.2 2537.6M1481.4 3062.3L2054.9 2673.9M1762.3 3077.4L1185.7 2521.0M1450.9 3031.5L2024.9 2648.2M1792.3 3055.9L1215.9 2504.5M1420.7 3001.0L1995.2 2622.8M1822.0 3034.6L1245.7 2488.2M1390.8 2970.8L1965.7 2597.6M1851.3 3013.6L1275.3 2472.0M1361.3 2941.0L1936.5 2572.7M1880.2 2992.8L1304.5 2456.1M1332.1 2911.5L1907.6 2548.0M1908.9 2972.2L1333.4 2440.3M1303.1 2882.2L1879.0 2523.5M1937.2 2951.9L1362.0 2424.6M1274.5 2853.3L1850.7 2499.3M1965.1 2931.8L1390.4 2409.2M1246.2 2824.7L1822.6 2475.3M1992.8 2912.0L1418.4 2393.8M1218.2 2796.4L1794.7 2451.5M2020.2 2892.4L1446.2 2378.7M1190.4 2768.4L1767.1 2427.9M2047.2 2873.0L1473.6 2363.7M1163.0 2740.6L1739.8 2404.5M2073.9 2853.8L1500.8 2348.8M1135.8 2713.2L1712.8 2381.4M2100.4 2834.8L1527.7 2334.1M1108.9 2686.0L1685.9 2358.5M2126.5 2816.0L1554.4 2319.6M1082.3 2659.1L1659.3 2335.7M2152.4 2797.5L1580.8 2305.2M1055.9 2632.5L1633.0 2313.2M2178.0 2779.1L1606.9 2290.9M1029.8 2606.1L1606.9 2290.9" fill="none" stroke="#0a0a0a" stroke-width="2.1" stroke-linecap="round"/>
<circle cx="1025.7" cy="2591.8" r="12" fill="#d40000" stroke="#2a0000" stroke-width="2.2"/>
<circle cx="1880.0" cy="2518.3" r="12" fill="#d40000" stroke="#2a0000" stroke-width="2.2"/>
<circle cx="1606.6" cy="2692.2" r="12" fill="#d40000" stroke="#2a0000" stroke-width="2.2"/>
<rect x="1594.6" y="2666.7" width="24" height="25.5" fill="#d40000"/>
<line x1="1594.6" y1="2666.7" x2="1594.6" y2="2692.2" stroke="#2a0000" stroke-width="2.2"/>
<line x1="1618.6" y1="2666.7" x2="1618.6" y2="2692.2" stroke="#2a0000" stroke-width="2.2"/>
<line x1="1606.6" y1="2684.0" x2="1606.6" y2="2699.0" stroke="#8a0000" stroke-width="4"/>
<circle cx="1606.6" cy="2666.7" r="12" fill="#d40000" stroke="#2a0000" stroke-width="2.2"/>
<rect x="1007.8" y="2313.4" width="11.2" height="10" rx="2.5" fill="#000"/>
<text transform="translate(927.59,2305.10) scale(0.9300,1)" font-family='"Liberation Sans", sans-serif' font-size="40.58" font-weight="normal" fill="#111">200</text>
<rect x="1013.3" y="2436.6" width="11.2" height="10" rx="2.5" fill="#000"/>
<text transform="translate(933.13,2428.31) scale(0.9300,1)" font-family='"Liberation Sans", sans-serif' font-size="40.58" font-weight="normal" fill="#111">180</text>
<rect x="1018.9" y="2560.3" width="11.2" height="10" rx="2.5" fill="#000"/>
<text transform="translate(938.69,2552.01) scale(0.9300,1)" font-family='"Liberation Sans", sans-serif' font-size="40.58" font-weight="normal" fill="#111">160</text>
<rect x="1024.5" y="2683.5" width="11.2" height="10" rx="2.5" fill="#000"/>
<text transform="translate(944.24,2675.22) scale(0.9300,1)" font-family='"Liberation Sans", sans-serif' font-size="40.58" font-weight="normal" fill="#111">140</text>
<rect x="1030.0" y="2807.2" width="11.2" height="10" rx="2.5" fill="#000"/>
<text transform="translate(949.80,2798.91) scale(0.9300,1)" font-family='"Liberation Sans", sans-serif' font-size="40.58" font-weight="normal" fill="#111">120</text>
<rect x="1035.6" y="2930.3" width="11.2" height="10" rx="2.5" fill="#000"/>
<text transform="translate(955.34,2922.04) scale(0.9300,1)" font-family='"Liberation Sans", sans-serif' font-size="40.58" font-weight="normal" fill="#111">100</text>
<rect x="1044.2" y="3122.4" width="11.2" height="10" rx="2.5" fill="#000"/>
<text transform="translate(986.50,3167.90) scale(0.9300,1)" font-family='"Liberation Sans", sans-serif' font-size="40.58" font-weight="normal" fill="#111">10</text>
<rect x="1155.6" y="3178.9" width="11.2" height="10" rx="2.5" fill="#000"/>
<text transform="translate(1117.19,3227.22) scale(0.9300,1)" font-family='"Liberation Sans", sans-serif' font-size="40.58" font-weight="normal" fill="#111">9</text>
<rect x="1266.9" y="3235.4" width="11.2" height="10" rx="2.5" fill="#000"/>
<text transform="translate(1228.45,3283.74) scale(0.9300,1)" font-family='"Liberation Sans", sans-serif' font-size="40.58" font-weight="normal" fill="#111">8</text>
<rect x="1378.3" y="3292.0" width="11.2" height="10" rx="2.5" fill="#000"/>
<text transform="translate(1339.91,3340.26) scale(0.9300,1)" font-family='"Liberation Sans", sans-serif' font-size="40.58" font-weight="normal" fill="#111">7</text>
<rect x="1489.6" y="3348.5" width="11.2" height="10" rx="2.5" fill="#000"/>
<text transform="translate(1451.08,3396.78) scale(0.9300,1)" font-family='"Liberation Sans", sans-serif' font-size="40.58" font-weight="normal" fill="#111">6</text>
<rect x="1601.0" y="3405.0" width="11.2" height="10" rx="2.5" fill="#000"/>
<text transform="translate(1565.43,3452.00) scale(0.9300,1)" font-family='"Liberation Sans", sans-serif' font-size="40.58" font-weight="normal" fill="#111">5</text>
<rect x="1601.0" y="3405.0" width="11.2" height="10" rx="2.5" fill="#000"/>
<text transform="translate(1627.46,3452.00) scale(0.9300,1)" font-family='"Liberation Sans", sans-serif' font-size="40.58" font-weight="normal" fill="#111">1</text>
<rect x="1712.2" y="3348.4" width="11.2" height="10" rx="2.5" fill="#000"/>
<text transform="translate(1740.14,3396.04) scale(0.8688,1)" font-family='"Liberation Sans", sans-serif' font-size="40.58" font-weight="normal" fill="#111">1.2</text>
<rect x="1823.4" y="3291.9" width="11.2" height="10" rx="2.5" fill="#000"/>
<text transform="translate(1851.36,3339.48) scale(0.8553,1)" font-family='"Liberation Sans", sans-serif' font-size="40.58" font-weight="normal" fill="#111">1.4</text>
<rect x="1934.5" y="3235.3" width="11.2" height="10" rx="2.5" fill="#000"/>
<text transform="translate(1962.52,3282.92) scale(0.8620,1)" font-family='"Liberation Sans", sans-serif' font-size="40.58" font-weight="normal" fill="#111">1.6</text>
<rect x="2045.7" y="3178.8" width="11.2" height="10" rx="2.5" fill="#000"/>
<text transform="translate(2073.70,3226.36) scale(0.8620,1)" font-family='"Liberation Sans", sans-serif' font-size="40.58" font-weight="normal" fill="#111">1.8</text>
<rect x="2156.9" y="3122.2" width="11.2" height="10" rx="2.5" fill="#000"/>
<text transform="translate(2185.53,3168.40) scale(0.9300,1)" font-family='"Liberation Sans", sans-serif' font-size="40.58" font-weight="normal" fill="#111">2</text>
<text transform="translate(893.54,3392.20) scale(0.9415,1)" font-family='"Liberation Sans", sans-serif' font-size="40.58" font-weight="normal" fill="#111">B: Eugenol Concentration</text>
<clipPath id="rclip"><rect x="1700" y="3300" width="720" height="150"/></clipPath>
<g clip-path="url(#rclip)">
<text transform="translate(1772.50,3390.80) scale(0.9642,1)" font-family='"Liberation Sans", sans-serif' font-size="39.86" font-weight="normal" fill="#111">A: Dacarbazine Concentration (mg/ml)</text>
</g>
<g transform="translate(847.1,2816.3) rotate(-90)">
<text transform="translate(-1.78,0.00) scale(0.9117,1)" font-family='"Liberation Sans", sans-serif' font-size="43.48" font-weight="normal" fill="#111">Size (nm)</text>
</g>
</g>
<text transform="translate(1167.34,3570.50) scale(0.9451,1)" font-family='"Liberation Serif", serif' font-size="86.00" font-weight="bold" fill="#000">(c)</text>
</svg>
</body></html>
